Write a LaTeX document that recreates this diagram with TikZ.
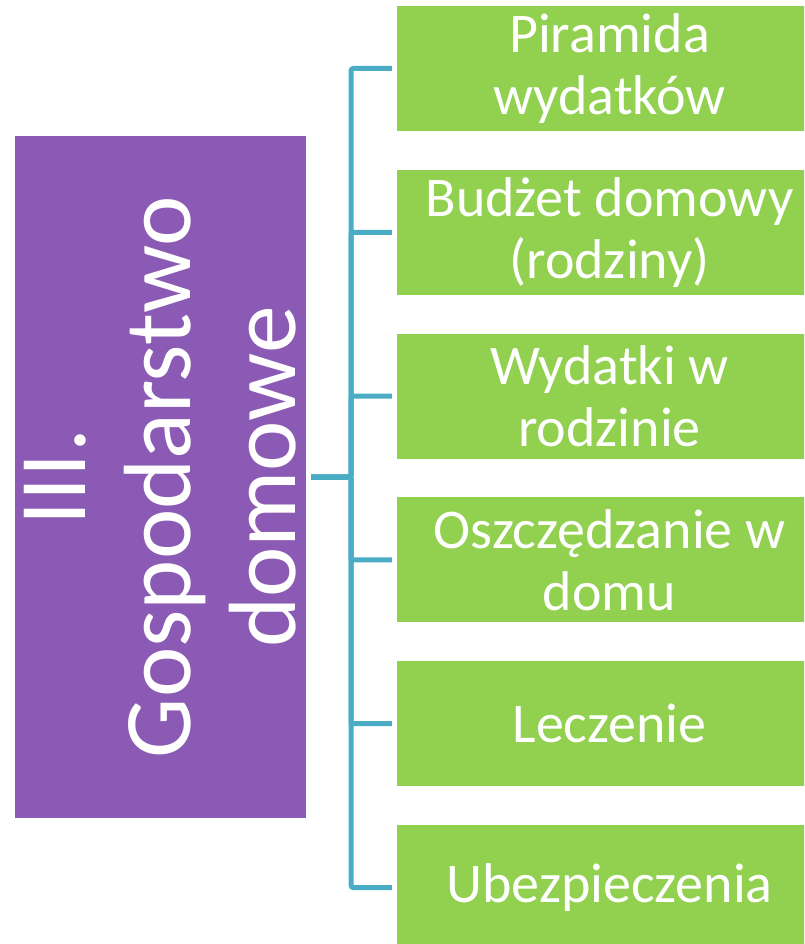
\documentclass[tikz,border=0pt]{standalone}
\usepackage{fontspec}
\setmainfont{Carlito}
\usetikzlibrary{positioning}
\definecolor{roxo}{HTML}{8A5AB4}
\definecolor{verde}{HTML}{92D050}
\definecolor{azul}{HTML}{4BACC6}
\begin{document}
\begin{tikzpicture}[x=1pt,y=-1pt, %Unidades em pixels, eixo y para baixo
	tema/.style={fill=roxo, text=white, rotate=90, minimum width=682pt, minimum height=291pt, inner sep=0pt, align=center, font=\fontsize{95.5}{105}\selectfont},
	caixa/.style={fill=verde, text=white, minimum width=425pt, minimum height=125pt, inner sep=0pt, align=center, font=\fontsize{56}{62}\selectfont},
	liga/.style={draw=azul, line width=5pt, rounded corners=2pt, shorten <=5pt, shorten >=5pt}]
					\clip (0,0) rectangle (804,944); %Moldura do desenho
						%Tema principal
					\node[tema] (gosp) at (160.5,477) {III.\\Gospodarstwo\\domowe}; %Caixa roxa
						%Subtemas
					\node[caixa] (piramida) at (609.5,68.5) {Piramida\\wydatków}; %Primeira caixa
					\node[caixa, below=38.4pt of piramida] (budzet) {Budżet domowy\\(rodziny)};
					\node[caixa, below=38.4pt of budzet] (wydatki) {Wydatki w\\rodzinie};
					\node[caixa, below=38.4pt of wydatki] (oszcz) {Oszczędzanie w\\domu};
					\node[caixa, below=38.4pt of oszcz] (leczenie) {Leczenie};
					\node[caixa, below=38.4pt of leczenie] (ubezp) {Ubezpieczenia}; %Ultima caixa
						%Ligacoes
					\foreach \f in {piramida,budzet,wydatki,oszcz,leczenie,ubezp}
						\draw[liga] (gosp.south) -- ++(45,0) |- (\f.west); %Chave azul
				\end{tikzpicture}
\end{document}
